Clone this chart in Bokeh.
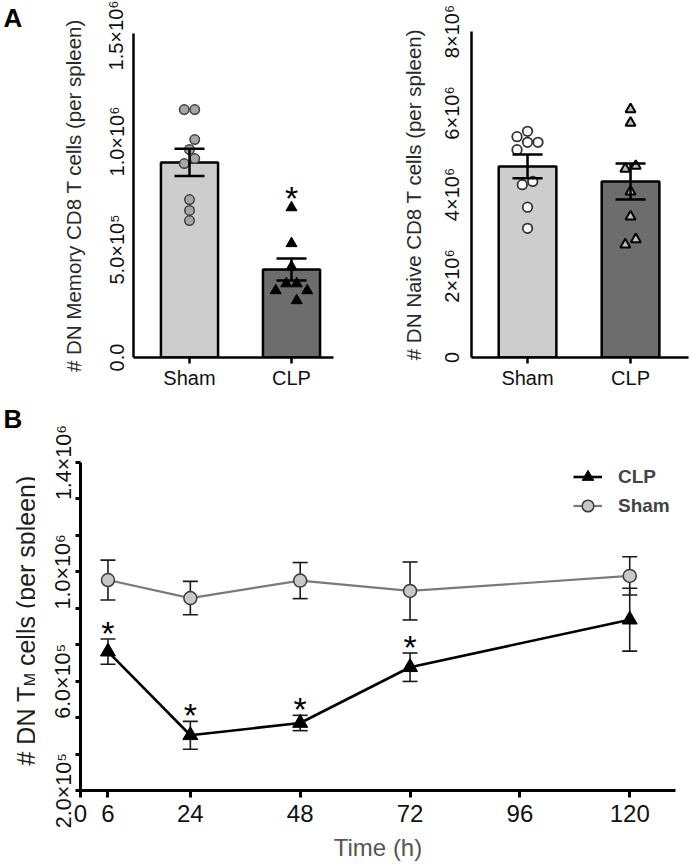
import math
from bokeh.plotting import figure
from bokeh.layouts import column, row
from bokeh.models import (Range1d, FixedTicker, Whisker, TeeHead, ColumnDataSource,
                          Legend, LegendItem)
from bokeh.embed import file_html
from bokeh.resources import INLINE
from bokeh.core.properties import value

FONT = "Liberation Sans"

# ---------------- data ----------------
groups = ["Sham", "CLP"]

mem_sham = [1.148e6, 1.148e6, 1.009e6, 0.963e6, 0.921e6, 0.898e6, 0.731e6, 0.681e6, 0.634e6]
mem_clp = [0.694e6, 0.528e6, 0.420e6, 0.342e6, 0.342e6, 0.310e6, 0.310e6, 0.264e6]
mem_mean = [0.903e6, 0.407e6]
mem_sem = [0.063e6, 0.051e6]
mem_ticks = [0, 5e5, 1e6, 1.5e6]
mem_tick_labels = ["0.0", "5.0×10⁵", "1.0×10⁶", "1.5×10⁶"]

naive_sham = [5.55e6, 5.42e6, 5.28e6, 5.28e6, 5.10e6, 4.32e6, 4.24e6, 3.69e6, 3.17e6]
naive_clp = [6.09e6, 5.76e6, 4.70e6, 4.63e6, 4.07e6, 3.46e6, 2.90e6, 2.77e6]
naive_mean = [4.69e6, 4.32e6]
naive_sem = [0.29e6, 0.44e6]
naive_ticks = [0, 2e6, 4e6, 6e6, 8e6]
naive_tick_labels = ["0", "2×10⁶", "4×10⁶", "6×10⁶", "8×10⁶"]

times = [6, 24, 48, 72, 120]
clp_mean = [0.708e6, 0.402e6, 0.447e6, 0.651e6, 0.825e6]
clp_sem = [0.046e6, 0.051e6, 0.028e6, 0.052e6, 0.115e6]
sham_mean = [0.970e6, 0.904e6, 0.968e6, 0.930e6, 0.985e6]
sham_sem = [0.073e6, 0.061e6, 0.066e6, 0.106e6, 0.070e6]
clp_significant = [True, True, True, True, False]
time_ticks = [0, 6, 24, 48, 72, 96, 120]
tm_ticks = [2e5, 6e5, 1.0e6, 1.4e6]
tm_tick_labels = ["2.0×10⁵", "6.0×10⁵", "1.0×10⁶", "1.4×10⁶"]

# ---------------- helpers ----------------
def swarm_offsets(vals, px_per_val, diam):
    """beeswarm-like horizontal offsets (pixels) so markers do not overlap"""
    order = sorted(range(len(vals)), key=lambda i: -vals[i])
    xs = {}
    step = diam / 2.0
    cands = [0.0]
    for m in range(1, 30):
        cands += [-m * step, m * step]
    for i in order:
        y = vals[i] * px_per_val
        for c in cands:
            if all((c - xs[j]) ** 2 + (y - vals[j] * px_per_val) ** 2 >= (0.95 * diam) ** 2 for j in xs):
                xs[i] = c
                break
    asc = sorted(range(len(vals)), key=lambda i: vals[i])
    clusters, cur = [], [asc[0]]
    for a, b in zip(asc, asc[1:]):
        if (vals[b] - vals[a]) * px_per_val < diam:
            cur.append(b)
        else:
            clusters.append(cur)
            cur = [b]
    clusters.append(cur)
    for cl in clusters:
        lo = min(xs[i] for i in cl)
        hi = max(xs[i] for i in cl)
        sh = (lo + hi) / 2.0
        for i in cl:
            xs[i] -= sh
    return [xs[i] for i in range(len(vals))]


def base_fig(width, height, xr, yr, ml, mr, mt, mb):
    p = figure(width=width, height=height, x_range=xr, y_range=yr,
               output_backend="svg", toolbar_location=None, title=None,
               min_border_left=ml, min_border_right=mr,
               min_border_top=mt, min_border_bottom=mb, frame_align=False)
    p.xgrid.visible = False
    p.ygrid.visible = False
    p.outline_line_color = None
    p.background_fill_color = "white"
    p.border_fill_color = "white"
    for ax in (p.xaxis[0], p.yaxis[0]):
        ax.major_label_text_font = FONT
        ax.axis_label_text_font = FONT
        ax.axis_label_text_font_style = "normal"
        ax.major_label_text_color = "#111111"
        ax.minor_tick_line_color = None
    return p


def text_fig(width, height):
    """blank strip used for panel letters / composed axis titles (1 data unit = 1 px)"""
    p = figure(width=width, height=height, x_range=Range1d(0, width), y_range=Range1d(0, height),
               output_backend="svg", toolbar_location=None, title=None,
               x_axis_location=None, y_axis_location=None, frame_align=False,
               min_border_left=0, min_border_right=0, min_border_top=0, min_border_bottom=0)
    p.xgrid.visible = False
    p.ygrid.visible = False
    p.outline_line_color = None
    p.background_fill_color = "white"
    p.border_fill_color = "white"
    return p


ROW_A_H = 400
ROW_B_H = 464
STRIP_A_W = 30
STRIP_B_W = 35

# ---------------- panel A (memory) ----------------
PX_UNIT1 = 102.0
FRAME1_H = 324
p1 = base_fig(340 - STRIP_A_W, ROW_A_H, Range1d(-0.549, -0.549 + 200 / PX_UNIT1),
              Range1d(0, 1.5e6), 133 - STRIP_A_W, 7, 33, ROW_A_H - 33 - FRAME1_H)


def bar_panel(p, px_unit, frame_h, ymax, sham_vals, clp_vals, means, sems,
              ticks, tick_labels, title, sham_style, clp_style, tick_stand, title_stand):
    xpos = list(range(len(groups)))
    p.vbar(x=xpos, top=means, bottom=0, width=0.56,
           fill_color=["#cdcdcd", "#6d6d6d"], line_color="black", line_width=2.5)
    ppv = frame_h / ymax
    for k, (vals, style) in enumerate(((sham_vals, sham_style), (clp_vals, clp_style))):
        offs = swarm_offsets(vals, ppv, style["diam"])
        xs = [xpos[k] + o / px_unit for o in offs]
        p.scatter(x=xs, y=vals, marker=style["marker"], size=style["size"],
                  fill_color=style["fill"], line_color=style["line"],
                  line_width=style["lw"])
    src = ColumnDataSource(dict(base=xpos,
                                upper=[m + s for m, s in zip(means, sems)],
                                lower=[m - s for m, s in zip(means, sems)]))
    w = Whisker(source=src, base="base", upper="upper", lower="lower",
                dimension="height", line_color="black", line_width=2.5,
                upper_head=TeeHead(size=30, line_width=2.5, line_color="black"),
                lower_head=TeeHead(size=30, line_width=2.5, line_color="black"),
                level="overlay")
    p.add_layout(w)

    xa, ya = p.xaxis[0], p.yaxis[0]
    xa.ticker = FixedTicker(ticks=xpos)
    xa.major_label_overrides = {i: g for i, g in zip(xpos, groups)}
    xa.major_label_text_font_size = "20px"
    xa.major_tick_out = 6
    xa.major_tick_in = 0
    xa.major_tick_line_width = 2.5
    xa.axis_line_width = 2.5
    xa.major_label_standoff = 3

    ya.ticker = FixedTicker(ticks=ticks)
    ya.major_label_overrides = {t: l for t, l in zip(ticks, tick_labels)}
    ya.major_label_orientation = "vertical"
    ya.major_label_text_font_size = "20px"
    ya.major_tick_out = 0
    ya.major_tick_in = 0
    ya.axis_line_width = 2.5
    ya.major_label_standoff = tick_stand
    ya.axis_label = title
    ya.axis_label_text_font_size = "20.5px"
    ya.axis_label_text_color = "#2a2a2a"
    ya.axis_label_standoff = title_stand
    return xpos


xpos1 = bar_panel(p1, PX_UNIT1, FRAME1_H, 1.5e6, mem_sham, mem_clp, mem_mean, mem_sem,
                  mem_ticks, mem_tick_labels, "# DN Memory CD8 T cells (per spleen)",
                  dict(marker="circle", size=9.5, diam=10.5, fill="#a6a6a6", line="#404040", lw=1.5),
                  dict(marker="triangle", size=11, diam=10.5, fill="black", line="black", lw=1),
                  6, 18)
p1.text(x=[xpos1[1]], y=[max(mem_clp)], text=["*"], text_font=value(FONT),
        text_font_size="34px", text_align="center", text_baseline="alphabetic",
        y_offset=-10, text_color="black")

# ---------------- panel A (naive) ----------------
PX_UNIT2 = 103.0
FRAME2_H = 326
p2 = base_fig(350, ROW_A_H, Range1d(-0.544, -0.544 + 217 / PX_UNIT2), Range1d(0, 8e6),
              131, 2, 31, ROW_A_H - 31 - FRAME2_H)
bar_panel(p2, PX_UNIT2, FRAME2_H, 8e6, naive_sham, naive_clp, naive_mean, naive_sem,
          naive_ticks, naive_tick_labels, "# DN Naive CD8 T cells (per spleen)",
          dict(marker="circle", size=9.5, diam=10.5, fill="white", line="#333333", lw=1.8),
          dict(marker="triangle", size=10, diam=10.5, fill="#bdbdbd", line="black", lw=2),
          9, 13)

# panel letter A
pA = text_fig(STRIP_A_W, ROW_A_H)
pA.text(x=[3], y=[ROW_A_H - 17], text=["A"], text_font=value(FONT), text_font_style="bold",
        text_font_size="26px", text_align="left", text_baseline="alphabetic", text_color="black")

# ---------------- panel B ----------------
FRAME3_W, FRAME3_H = 595, 328
p3 = base_fig(690 - STRIP_B_W, ROW_B_H, Range1d(0, 130), Range1d(2e5, 1.4e6),
              80 - STRIP_B_W, 15, 62, ROW_B_H - 62 - FRAME3_H)

for mean, sem in ((sham_mean, sham_sem), (clp_mean, clp_sem)):
    src = ColumnDataSource(dict(base=times,
                                upper=[m + s for m, s in zip(mean, sem)],
                                lower=[m - s for m, s in zip(mean, sem)]))
    w = Whisker(source=src, base="base", upper="upper", lower="lower",
                dimension="height", line_color="#1a1a1a", line_width=1.6,
                upper_head=TeeHead(size=15, line_width=1.6, line_color="#1a1a1a"),
                lower_head=TeeHead(size=15, line_width=1.6, line_color="#1a1a1a"),
                level="underlay")
    p3.add_layout(w)

sham_line = p3.line(times, sham_mean, line_color="#7a7a7a", line_width=2.2)
sham_pts = p3.scatter(times, sham_mean, marker="circle", size=13, fill_color="#c8c8c8",
                      line_color="#3a3a3a", line_width=1.5)
clp_line = p3.line(times, clp_mean, line_color="black", line_width=2.6)
clp_pts = p3.scatter(times, clp_mean, marker="triangle", size=15, fill_color="black",
                     line_color="black")

sig_t = [t for t, s in zip(times, clp_significant) if s]
sig_top = [m + e for m, e, s in zip(clp_mean, clp_sem, clp_significant) if s]
p3.text(x=sig_t, y=sig_top, text=["*"] * len(sig_t), text_font=value(FONT),
        text_font_size="34px", text_align="center", text_baseline="alphabetic",
        y_offset=-6, text_color="black")

xa, ya = p3.xaxis[0], p3.yaxis[0]
xa.ticker = FixedTicker(ticks=time_ticks)
xa.major_label_text_font_size = "24px"
xa.major_tick_out = 7
xa.major_tick_in = 0
xa.major_tick_line_width = 3
xa.axis_line_width = 3
xa.major_label_standoff = 7
xa.axis_label = "Time (h)"
xa.axis_label_text_font_size = "24px"
xa.axis_label_text_color = "#555555"
xa.axis_label_standoff = 9

minor = []
for a, b in zip(tm_ticks, tm_ticks[1:]):
    minor += [a + (b - a) * k / 3.0 for k in (1, 2)]
ya.ticker = FixedTicker(ticks=tm_ticks, minor_ticks=minor)
ya.major_label_overrides = {t: l for t, l in zip(tm_ticks, tm_tick_labels)}
ya.major_label_orientation = "vertical"
ya.major_label_text_font_size = "21.5px"
ya.major_tick_out = 5
ya.major_tick_in = 0
ya.major_tick_line_width = 3
ya.minor_tick_line_color = "black"
ya.minor_tick_line_width = 3
ya.minor_tick_out = 5
ya.minor_tick_in = 0
ya.axis_line_width = 3
ya.major_label_standoff = 0

legend = Legend(items=[LegendItem(label="CLP", renderers=[clp_line, clp_pts]),
                       LegendItem(label="Sham", renderers=[sham_line, sham_pts])],
                location=(493, FRAME3_H - 58))
legend.label_text_font = FONT
legend.label_text_font_style = "bold"
legend.label_text_font_size = "19px"
legend.label_text_baseline = "middle"
legend.glyph_width = 29
legend.glyph_height = 29
legend.label_height = 29
legend.label_standoff = 16
legend.spacing = 0
legend.padding = 0
legend.margin = 0
legend.border_line_color = None
legend.background_fill_alpha = 0
p3.add_layout(legend)

# strip left of panel B: letter B and y title with subscript M
ADV = {" ": 278, "#": 556, "D": 722, "N": 722, "T": 611, "M": 833, "c": 500, "e": 556,
       "l": 222, "s": 500, "(": 333, "p": 556, "r": 333, "n": 556, ")": 333}


def text_w(s, size):
    return sum(ADV[ch] for ch in s) / 1000.0 * size


pB = text_fig(STRIP_B_W, ROW_B_H)
T_SIZE, SUB_SIZE = 25, 16
pieces = ["# DN T", "M", " cells (per spleen)"]
sizes = [T_SIZE, SUB_SIZE, T_SIZE]
shift = [0, 5, 0]
y_start = ROW_B_H - (765 - ROW_A_H)
x_base = 25
adv = 0.0
for txt, sz, dx in zip(pieces, sizes, shift):
    body = txt.lstrip(" ")
    adv += text_w(txt[:len(txt) - len(body)], sz)   # leading spaces are not drawn by SVG
    pB.text(x=[x_base + dx], y=[y_start + adv], text=[body], angle=math.pi / 2,
            text_font=value(FONT), text_font_size=f"{sz}px", text_align="left",
            text_baseline="alphabetic", text_color="#1e1e1e")
    adv += text_w(body, sz)
pB.text(x=[3], y=[ROW_B_H - (418 - ROW_A_H)], text=["B"], text_font=value(FONT),
        text_font_style="bold", text_font_size="26px", text_align="left",
        text_baseline="alphabetic", text_color="black")

layout = column(row(pA, p1, p2), row(pB, p3))
open("out.html", "w").write(file_html(layout, INLINE))
